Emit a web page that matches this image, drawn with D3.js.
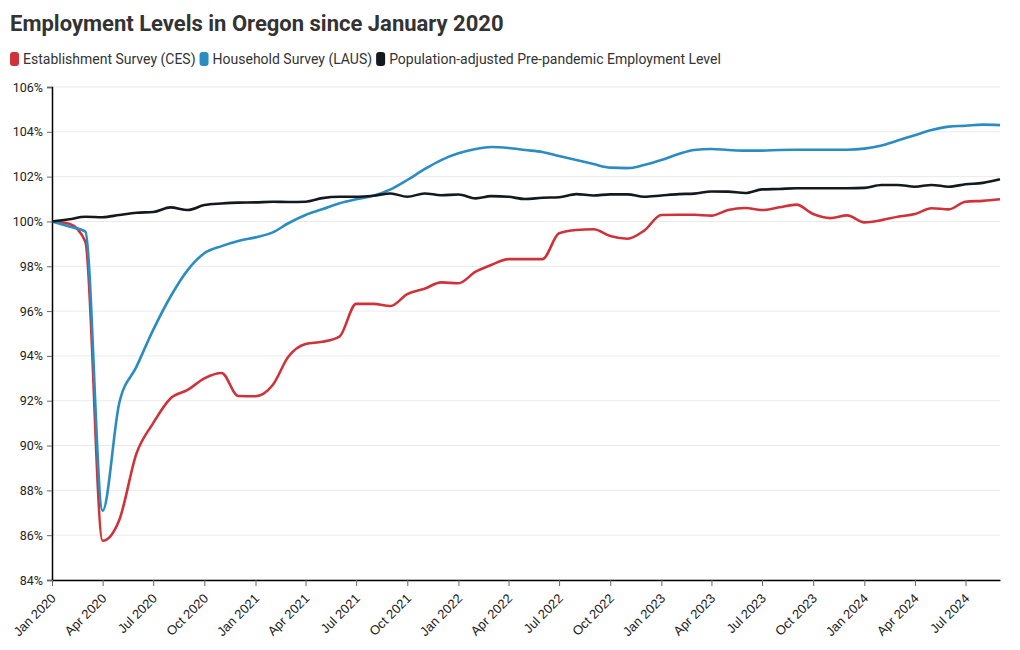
<!DOCTYPE html>
<html><head><meta charset="utf-8">
<script src="https://cdn.jsdelivr.net/npm/d3@7"></script>
<style>
body{margin:0;background:#fff;font-family:Roboto,"Noto Sans",sans-serif;}
</style></head><body>
<svg id="c" width="1020" height="650"></svg>
<script>
const months = d3.range(57).map(i => new Date(2020, i, 1));
const ces = [100,99.9,99.1,85.75,86.68,89.65,91.0,92.1,92.48,93.0,93.24,92.21,
  92.2,92.7,93.96,94.53,94.63,94.86,96.32,96.32,96.23,96.76,97.0,97.28,
  97.24,97.76,98.06,98.32,98.32,98.32,99.47,99.62,99.65,99.35,99.23,99.59,
  100.29,100.3,100.3,100.26,100.51,100.6,100.51,100.63,100.75,100.33,100.15,100.27,
  99.96,100.06,100.21,100.33,100.59,100.54,100.88,100.92,100.99];
const laus = [100,99.77,99.55,87.09,91.9,93.52,95.16,96.64,97.83,98.58,98.9,99.13,
  99.29,99.51,99.92,100.29,100.54,100.81,100.99,101.15,101.43,101.85,102.33,102.74,
  103.04,103.23,103.32,103.28,103.19,103.1,102.92,102.74,102.56,102.4,102.38,102.52,
  102.74,103.01,103.19,103.23,103.19,103.16,103.16,103.19,103.2,103.2,103.2,103.2,
  103.25,103.39,103.61,103.85,104.08,104.23,104.27,104.32,104.3];
const popAdj = [100,100.1,100.21,100.19,100.29,100.39,100.42,100.63,100.51,100.73,100.8,100.84,
  100.85,100.88,100.87,100.88,101.04,101.1,101.1,101.15,101.25,101.1,101.25,101.17,
  101.2,101.03,101.13,101.1,101.0,101.06,101.08,101.22,101.16,101.21,101.21,101.1,
  101.16,101.22,101.24,101.34,101.33,101.27,101.43,101.45,101.48,101.48,101.48,101.48,
  101.5,101.63,101.63,101.55,101.63,101.55,101.66,101.72,101.88];
const seriesNames = ["Establishment Survey (CES)","Household Survey (LAUS)","Population-adjusted Pre-pandemic Employment Level"];
const seriesColors = ["#cf3339","#2b8cc2","#14191f"];
const yTicks = [84,86,88,90,92,94,96,98,100,102,104,106];

const svg = d3.select("#c");
const m = {l:52, r:1000, t:87, b:580};
const x = d3.scaleTime().domain([months[0], months[months.length-1]]).range([m.l, m.r]);
const y = d3.scaleLinear().domain([84,106]).range([m.b, m.t]);

svg.append("text").attr("x",10).attr("y",31).attr("font-size",22).attr("font-weight",700)
  .attr("fill","#333").text("Employment Levels in Oregon since January 2020");

// legend
let lx = 10;
seriesNames.forEach((n,i)=>{
  const g = svg.append("g");
  g.append("rect").attr("x",lx).attr("y",52).attr("width",9).attr("height",14).attr("rx",3)
    .attr("fill",seriesColors[i]);
  const t = g.append("text").attr("x",lx+13).attr("y",64).attr("font-size",14).attr("fill","#333").text(n);
  lx += 13 + t.node().getComputedTextLength() + 4;
});

// grid
svg.append("g").selectAll("line").data(yTicks).join("line")
  .attr("x1",m.l).attr("x2",m.r).attr("y1",d=>y(d)).attr("y2",d=>y(d))
  .attr("stroke","#ebebeb").attr("stroke-width",1);

// y axis
const ya = svg.append("g").attr("transform",`translate(${m.l},0)`)
  .call(d3.axisLeft(y).tickValues(yTicks).tickFormat(d=>d+"%").tickSize(5).tickPadding(4));
ya.select(".domain").attr("stroke","#000").attr("stroke-width",1.5);
ya.selectAll(".tick line").attr("stroke","#666");
ya.selectAll("text").attr("font-size",12.5).attr("font-family","Roboto, sans-serif").attr("fill","#222");

// x axis
const xTicks = months.filter((d,i)=>i%3===0);
const xa = svg.append("g").attr("transform",`translate(0,${m.b})`)
  .call(d3.axisBottom(x).tickValues(xTicks).tickFormat(d3.timeFormat("%b %Y")).tickSize(6).tickSizeOuter(0));
xa.select(".domain").attr("stroke","#000").attr("stroke-width",1.5);
xa.selectAll(".tick line").attr("stroke","#666");
xa.selectAll("text").attr("font-size",13).attr("font-family","'Liberation Sans', Arial, sans-serif").attr("fill","#222")
  .attr("text-anchor","end").attr("x",0).attr("y",0).attr("dx",0).attr("dy","0.35em")
  .attr("transform","translate(1,16) rotate(-45)");

const line = d3.line().x((d,i)=>x(months[i])).y(d=>y(d)).curve(d3.curveMonotoneX);
[ces, laus, popAdj].forEach((s,i)=>{
  svg.append("path").datum(s).attr("d",line).attr("fill","none")
    .attr("stroke",seriesColors[i]).attr("stroke-width",2.6).attr("stroke-linejoin","round");
});
</script></body></html>
